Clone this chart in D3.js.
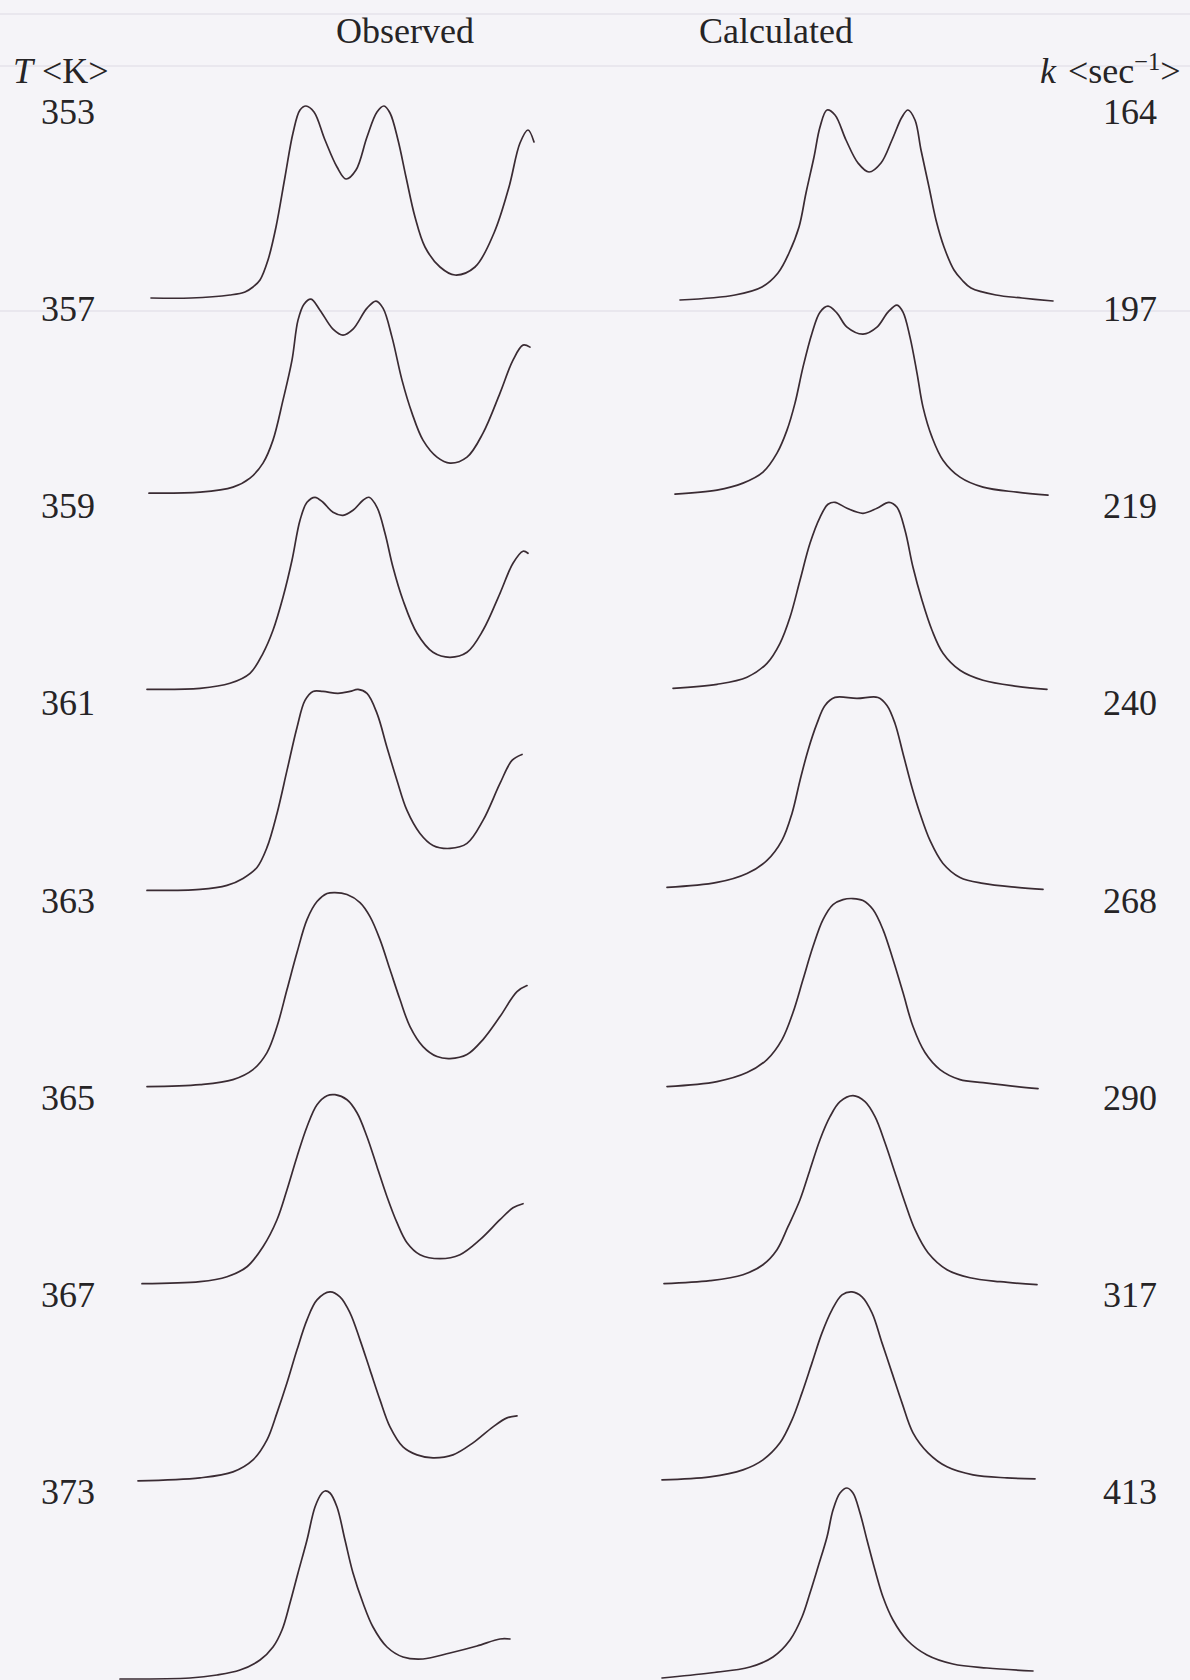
<!DOCTYPE html>
<html><head><meta charset="utf-8">
<script src="https://cdn.jsdelivr.net/npm/d3@7"></script>
<style>html,body{margin:0;padding:0;background:#f5f4f8;} svg{display:block}</style>
</head><body>
<script>
// Row labels
const temperatures = [353, 357, 359, 361, 363, 365, 367, 373];      // T <K>
const rateConstants = [164, 197, 219, 240, 268, 290, 317, 413];     // k <sec-1>
const columnTitles = ["Observed", "Calculated"];

// Observed spectra: [frequency offset, intensity]
const obs353 = [[51,0],[91,0],[130,3],[145,6],[153,11],[160,18],[168,38],[176,71],[185,121],[193,165],[200,188],[206,192],[214,186],[225,158],[237,131],[246,119],[256,128],[267,161],[277,186],[284,192],[290,185],[298,158],[306,121],[315,81],[325,51],[340,31],[355,23],[375,31],[394,65],[409,111],[420,155],[428,168],[434,156]];
const obs357 = [[49,2],[100,3],[133,8],[150,17],[163,32],[173,55],[183,95],[192,135],[198,175],[204,191],[211,196],[220,185],[233,166],[243,160],[253,166],[267,187],[276,194],[283,187],[292,158],[302,115],[312,82],[323,55],[337,38],[350,32],[367,38],[383,62],[400,102],[413,135],[423,150],[430,148]];
const obs359 = [[47,3],[100,4],[130,9],[150,19],[163,39],[173,62],[183,95],[192,132],[200,172],[207,190],[215,195],[223,190],[233,180],[243,177],[253,182],[263,192],[269,195],[277,185],[285,159],[293,125],[303,92],[317,59],[333,40],[350,35],[367,40],[383,62],[400,99],[413,129],[423,141],[428,139]];
const obs361 = [[47,-1],[100,0],[127,4],[143,11],[157,22],[167,42],[177,76],[187,119],[197,162],[205,189],[213,198],[223,198],[238,196],[250,198],[258,200],[267,196],[277,176],[287,142],[297,109],[307,79],[320,56],[333,44],[350,41],[367,46],[383,69],[400,106],[412,129],[422,135]];
const obs363 = [[47,0],[100,2],[133,7],[153,17],[167,34],[177,60],[187,97],[197,134],[207,167],[217,185],[227,193],[235,194],[247,192],[260,184],[270,170],[280,147],[290,117],[300,87],[310,60],[323,40],[337,30],[350,28],[367,32],[383,47],[400,70],[417,95],[427,101]];
const obs365 = [[42,0],[100,2],[127,7],[147,17],[163,37],[177,64],[187,94],[197,127],[207,157],[217,179],[227,188],[235,189],[247,184],[257,171],[267,147],[277,117],[287,87],[297,61],[307,41],[320,29],[340,25],[360,29],[380,44],[400,64],[413,76],[423,80]];
const obs367 = [[38,0],[100,3],[133,9],[153,21],[167,41],[177,68],[187,98],[197,131],[207,161],[217,181],[230,189],[240,184],[250,168],[260,141],[270,111],[280,81],[290,54],[303,34],[317,26],[333,23],[353,26],[373,38],[393,54],[407,63],[417,65]];
const obs373 = [[20,-1],[90,0],[117,3],[140,8],[160,18],[173,31],[182,48],[190,75],[198,105],[207,138],[215,171],[222,185],[225,187],[230,185],[237,171],[245,138],[253,105],[263,75],[273,51],[287,31],[303,21],[323,19],[350,25],[377,32],[400,39],[410,39]];

// Calculated spectra: [frequency offset, intensity]
const calc164 = [[40,-2],[95,3],[122,11],[138,25],[149,45],[159,71],[166,105],[174,141],[180,171],[187,188],[195,183],[206,158],[218,135],[229,126],[241,135],[252,158],[262,181],[268,188],[275,178],[281,148],[289,111],[296,78],[304,51],[314,28],[322,18],[331,10],[356,3],[382,0],[413,-3]];
const calc197 = [[35,1],[77,5],[103,12],[123,23],[137,42],[147,65],[155,92],[163,128],[172,162],[180,183],[188,189],[197,182],[207,168],[223,161],[237,168],[248,183],[257,190],[263,183],[270,158],[277,122],[283,88],[292,58],[303,35],[320,18],[343,8],[377,3],[408,0]];
const calc219 = [[33,4],[77,8],[107,15],[127,29],[140,49],[150,75],[160,112],[170,149],[180,175],[188,188],[195,190],[207,184],[223,179],[237,184],[249,190],[257,185],[265,162],[273,125],[282,92],[292,62],[303,39],[320,22],[343,12],[377,6],[407,3]];
const calc240 = [[27,2],[77,7],[107,16],[127,29],[142,49],[152,76],[160,109],[168,139],[177,166],[185,184],[195,192],[217,191],[238,192],[247,184],[255,166],[263,136],[272,102],[280,76],[290,49],[303,26],[320,12],[343,6],[377,2],[403,0]];
const calc268 = [[27,0],[77,5],[107,14],[127,27],[142,47],[153,74],[163,107],[173,140],[183,167],[193,182],[203,187],[213,188],[223,186],[233,177],[243,157],[253,127],[263,94],[273,60],[285,34],[300,17],[320,7],[343,4],[377,0],[398,-2]];
const calc290 = [[24,0],[70,3],[103,9],[123,19],[137,34],[148,57],[160,84],[170,114],[180,144],[190,167],[200,182],[213,188],[225,182],[235,167],[245,141],[255,111],[265,81],[275,54],[288,31],[307,14],[330,6],[360,2],[397,-1]];
const calc317 = [[22,1],[70,4],[103,11],[123,21],[140,38],[152,61],[162,88],[172,118],[182,148],[192,171],[202,186],[212,189],[222,184],[232,168],[242,138],[252,108],[262,78],[273,48],[288,28],[307,14],[333,6],[367,3],[395,2]];
const calc413 = [[22,0],[70,5],[110,11],[133,21],[150,38],[162,61],[170,85],[178,111],[187,141],[193,168],[200,185],[207,190],[213,185],[220,165],[227,138],[235,108],[243,81],[253,58],[267,38],[287,23],[313,14],[347,10],[393,7]];

const observedSpectra = [obs353, obs357, obs359, obs361, obs363, obs365, obs367, obs373];
const calculatedSpectra = [calc164, calc197, calc219, calc240, calc268, calc290, calc317, calc413];

const W = 1190, H = 1680;
const svg = d3.select("body").append("svg").attr("width", W).attr("height", H)
  .style("background", "#f5f4f8");

// faint scan bleed-through rules
[14, 66, 311].forEach(y => svg.append("line").attr("x1", 0).attr("x2", W).attr("y1", y).attr("y2", y)
  .attr("stroke", "#e9e7ee").attr("stroke-width", 2));

const rowY = d3.scalePoint().domain(d3.range(temperatures.length)).range([298, 1678]);
const xObs = d3.scaleLinear().domain([0, 440]).range([100, 540]);
const xCalc = d3.scaleLinear().domain([0, 440]).range([640, 1080]);
const yInt = d3.scaleLinear().domain([0, 200]).range([0, -200]);

const ink = "#3a2b33";
const font = "'Liberation Serif', 'Times New Roman', serif";
const fs = 36;

function drawColumn(spectra, xs) {
  spectra.forEach((pts, i) => {
    const line = d3.line().x(d => xs(d[0])).y(d => rowY(i) + yInt(d[1])).curve(d3.curveCatmullRom.alpha(0.5));
    svg.append("path").datum(pts).attr("d", line)
      .attr("fill", "none").attr("stroke", ink).attr("stroke-width", 1.7)
      .attr("stroke-linejoin", "round").attr("stroke-linecap", "round");
  });
}
drawColumn(observedSpectra, xObs);
drawColumn(calculatedSpectra, xCalc);

const txt = "#262426";
svg.append("text").attr("x", 405).attr("y", 43).attr("text-anchor", "middle")
  .attr("font-family", font).attr("font-size", fs).attr("fill", txt).text(columnTitles[0]);
svg.append("text").attr("x", 776).attr("y", 43).attr("text-anchor", "middle")
  .attr("font-family", font).attr("font-size", fs).attr("fill", txt).text(columnTitles[1]);

const tl = svg.append("text").attr("x", 13).attr("y", 83).attr("font-family", font).attr("font-size", fs).attr("fill", txt);
tl.append("tspan").attr("font-style", "italic").text("T");
tl.append("tspan").text(" <K>");

const kl = svg.append("text").attr("y", 83).attr("font-family", font).attr("font-size", fs).attr("fill", txt);
kl.append("tspan").attr("x", 1040).attr("font-style", "italic").text("k");
kl.append("tspan").attr("x", 1068).text("<sec");
kl.append("tspan").attr("font-size", fs * 0.68).attr("dy", -13).text("\u22121");
kl.append("tspan").attr("dy", 13).text(">");

svg.selectAll("text.tlab").data(temperatures).join("text").attr("class", "tlab")
  .attr("x", 41).attr("y", (d, i) => rowY(i) - 174)
  .attr("font-family", font).attr("font-size", fs).attr("fill", txt).text(d => d);
svg.selectAll("text.klab").data(rateConstants).join("text").attr("class", "klab")
  .attr("x", 1103).attr("y", (d, i) => rowY(i) - 174)
  .attr("font-family", font).attr("font-size", fs).attr("fill", txt).text(d => d);
</script>
</body></html>
